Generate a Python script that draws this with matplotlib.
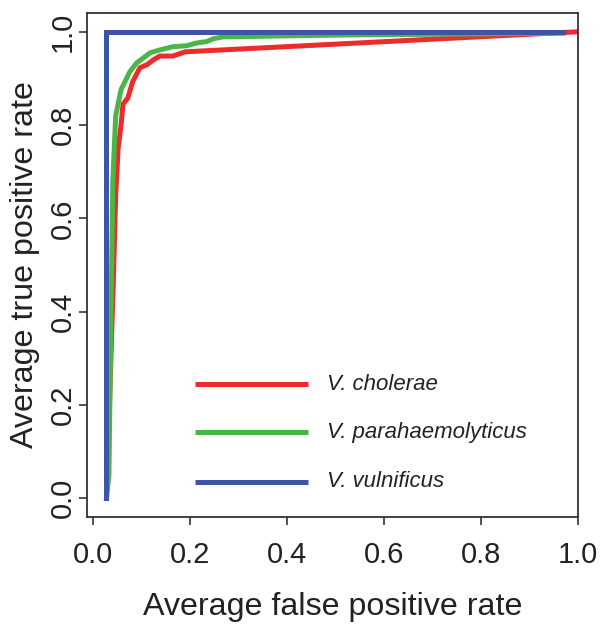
import matplotlib
matplotlib.use("Agg")
import matplotlib.pyplot as plt

plt.rcParams['font.family'] = ['Liberation Sans', 'DejaVu Sans']

# ROC curves
chol_fpr = [0.028, 0.042, 0.047, 0.052, 0.058, 0.062, 0.072, 0.082, 0.097, 0.111, 0.125, 0.138, 0.165, 0.19, 1.0]
chol_tpr = [0.0, 0.46, 0.65, 0.75, 0.80, 0.845, 0.858, 0.893, 0.923, 0.929, 0.94, 0.948, 0.948, 0.957, 1.0]

para_fpr = [0.028, 0.033, 0.041, 0.047, 0.058, 0.076, 0.09, 0.118, 0.138, 0.165, 0.193, 0.214, 0.235, 0.248, 0.268, 0.51, 0.97]
para_tpr = [0.0, 0.05, 0.68, 0.82, 0.876, 0.914, 0.933, 0.955, 0.961, 0.968, 0.97, 0.976, 0.979, 0.985, 0.989, 0.993, 0.997]

vuln_fpr = [0.028, 0.028, 0.97]
vuln_tpr = [0.0, 1.0, 1.0]

names = ['V. cholerae', 'V. parahaemolyticus', 'V. vulnificus']
colors = ['#ED2A2C', '#4BB648', '#3D55A5']
legend_y = [0.245, 0.142, 0.036]
ticks = [0.0, 0.2, 0.4, 0.6, 0.8, 1.0]

fig = plt.figure(figsize=(6.09, 6.24), dpi=100)
ax = fig.add_axes([0.143, 0.1715, 0.806, 0.8075])

ax.plot(chol_fpr, chol_tpr, color=colors[0], lw=3.6, solid_joinstyle='round')
ax.plot(para_fpr, para_tpr, color=colors[1], lw=3.6, solid_joinstyle='round')
ax.plot(vuln_fpr, vuln_tpr, color=colors[2], lw=3.6, solid_joinstyle='miter')

# manual legend like the R plot
for name, c, yy in zip(names, colors, legend_y):
    ax.plot([0.21, 0.443], [yy, yy], color=c, lw=3.6, solid_capstyle='butt')
    ax.text(0.482, yy, name, style='italic', fontsize=16, va='center', ha='left', color='#222222')

ax.set_xlim(-0.012, 1.0)
ax.set_ylim(-0.04, 1.04)
ax.set_xticks(ticks)
ax.set_yticks(ticks)
ax.set_xticklabels(['%.1f' % t for t in ticks], fontsize=21, color='#222222')
ax.set_yticklabels(['%.1f' % t for t in ticks], fontsize=21, color='#222222', rotation=90, va='center')
ax.tick_params(length=6, width=1.2, color='#333333')
ax.tick_params(axis='x', pad=11)
ax.tick_params(axis='y', pad=1.5)
for s in ax.spines.values():
    s.set_linewidth(1.3)
    s.set_color('#333333')

ax.set_xlabel('Average false positive rate', fontsize=23.2, color='#222222', labelpad=17)
ax.set_ylabel('Average true positive rate', fontsize=23.2, color='#222222', labelpad=6)

fig.savefig('out.png', dpi=100)
